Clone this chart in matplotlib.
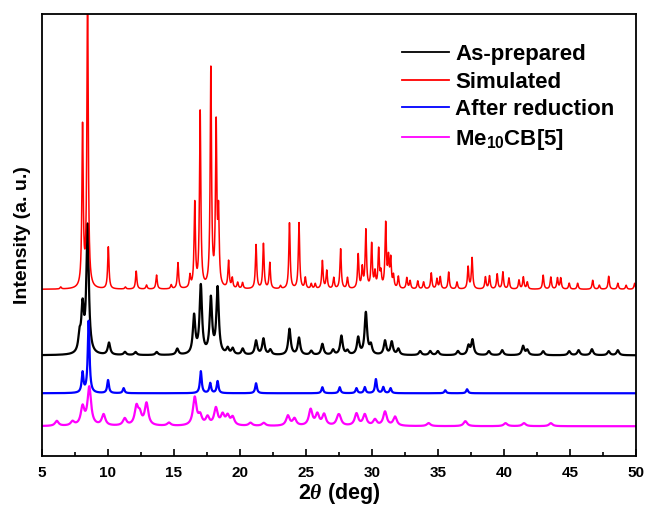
import numpy as np
import matplotlib
matplotlib.use('Agg')
import matplotlib.pyplot as plt
from matplotlib.ticker import MultipleLocator

plt.rcParams['font.family'] = ['Liberation Sans', 'DejaVu Sans']
plt.rcParams['font.weight'] = 'bold'
plt.rcParams['mathtext.fontset'] = 'custom'
plt.rcParams['mathtext.rm'] = 'Liberation Sans:bold'
plt.rcParams['mathtext.it'] = 'Liberation Serif:italic'
plt.rcParams['mathtext.bf'] = 'Liberation Sans:bold'

# peak lists: position (deg), height above baseline, half width (deg)
sim_pos = [6.44, 8.09, 8.47, 10.04, 11.33, 12.15, 12.93, 13.69, 14.8, 15.31, 16.22, 16.58,
           16.99, 17.8, 18.2, 18.38, 19.14, 19.42, 19.83, 20.2, 21.22, 21.78, 22.26, 23.07,
           23.75, 24.47, 24.95, 25.4, 25.7, 26.24, 26.57, 27.1, 27.62, 28.14, 28.95, 29.26,
           29.53, 29.97, 30.22, 30.5, 30.67, 31.03, 31.24, 31.41, 31.62, 31.99, 32.63, 32.88,
           33.46, 33.9, 34.48, 34.91, 35.16, 35.8, 36.43, 37.27, 37.57, 38.58, 38.89, 39.47,
           39.9, 40.36, 41.12, 41.45, 41.75, 42.95, 43.53, 44.03, 44.28, 44.92, 45.56, 46.7,
           47.2, 47.91, 48.6, 49.23, 49.87]
sim_h = [2, 160, 300, 42, 2, 18, 4, 14, 4, 26, 12, 84,
         176, 218, 160, 70, 27, 10, 6, 6, 44, 45, 26, 3,
         66, 66, 11, 5, 5, 28, 18, 11, 40, 11, 34, 20,
         58, 44, 15, 38, 14, 64, 28, 28, 12, 12, 11, 8,
         8, 7, 16, 10, 12, 17, 7, 22, 31, 12, 13, 15,
         17, 11, 9, 12, 7, 14, 12, 11, 11, 6, 6, 9,
         4, 13, 6, 4, 6]
sim_w = 0.06

exp_pos = [7.86, 8.09, 8.47, 10.09, 11.3, 12.1, 13.7, 15.26, 16.53, 17.04, 17.8, 18.31, 19.07,
           19.45, 20.21, 21.22, 21.78, 22.3, 23.75, 24.47, 25.4, 26.24, 27.05, 27.68, 28.14,
           28.95, 29.53, 29.91, 30.98, 31.49, 31.99, 33.64, 34.4, 34.98, 36.5, 37.3, 37.6,
           38.84, 39.85, 41.43, 41.75, 42.95, 44.92, 45.63, 46.64, 47.91, 48.6]
exp_h = [16, 44, 128, 12, 3, 3, 3, 6, 38, 68, 55, 66, 6,
         6, 6, 14, 16, 5, 26, 17, 4, 11, 5, 19, 4,
         17, 42, 9, 14, 13, 6, 4, 4, 4, 4, 9, 15,
         4, 5, 9, 5, 4, 4, 5, 6, 4, 5]
exp_w = 0.11

red_pos = [8.09, 8.55, 10.02, 11.2, 17.04, 17.75, 18.31, 21.22, 26.24, 27.55, 28.82, 29.45,
           30.29, 30.85, 31.4, 35.54, 37.19]
red_h = [20, 72, 13, 5, 22, 10, 12, 10, 6, 6, 5, 6, 14, 6, 5, 3, 4]
red_w = 0.08

cb_pos = [6.14, 7.33, 8.09, 8.6, 9.68, 11.28, 12.17, 12.42, 12.93, 14.63, 16.58, 16.99,
          17.55, 18.18, 18.69, 19.07, 19.45, 20.8, 21.8, 23.63, 24.13, 25.35, 25.86, 26.37,
          27.43, 27.55, 28.82, 29.45, 30.22, 30.98, 31.74, 34.28, 37.06, 40.1, 41.5, 43.53]
cb_h = [5, 4, 18, 38, 11, 7, 18, 10, 22, 3, 28, 9,
        8, 17, 10, 9, 8, 3, 3, 10, 7, 16, 11, 11,
        7, 6, 12, 11, 6, 14, 9, 3, 5, 3, 3, 3]
cb_w = 0.16

baselines = [167, 101, 63, 30]
colors = ['#ff0000', '#000000', '#0000ff', '#ff00ff']

two_theta = np.linspace(5, 50, 4501)


def pattern(pos, h, w, base):
    y = np.full_like(two_theta, float(base))
    for c, a in zip(pos, h):
        y += a / (1 + ((two_theta - c) / w) ** 2)
    return y


fig = plt.figure(figsize=(6.47, 5.08), dpi=100)
ax = fig.add_axes([0.0645, 0.102, 0.919, 0.871])

y_sim = pattern(sim_pos, sim_h, sim_w, baselines[0])
y_exp = pattern(exp_pos, exp_h, exp_w, baselines[1])
y_red = pattern(red_pos, red_h, red_w, baselines[2])
y_cb = pattern(cb_pos, cb_h, cb_w, baselines[3])

l_exp, = ax.plot(two_theta, y_exp, color=colors[1], lw=1.6)
l_sim, = ax.plot(two_theta, y_sim, color=colors[0], lw=1.1)
l_red, = ax.plot(two_theta, y_red, color=colors[2], lw=1.6)
l_cb, = ax.plot(two_theta, y_cb, color=colors[3], lw=1.6)

ax.set_xlim(5, 50)
ax.set_ylim(0, 443)
ax.set_yticks([])
ax.xaxis.set_major_locator(MultipleLocator(5))
ax.xaxis.set_minor_locator(MultipleLocator(2.5))
ax.tick_params(axis='x', which='major', direction='in', length=5, width=1.2,
               labelsize=11, pad=7)
ax.tick_params(axis='x', which='minor', direction='in', length=3, width=1.2)
for lab in ax.get_xticklabels():
    lab.set_fontweight('bold')
for s in ax.spines.values():
    s.set_linewidth(1.3)

ax.set_xlabel(r'2$\theta$ (deg)', fontsize=15.5, fontweight='bold', labelpad=1)
ax.set_ylabel('Intensity (a. u.)', fontsize=14, fontweight='bold', labelpad=8)

leg = ax.legend([l_exp, l_sim, l_red, l_cb],
                ['As-prepared', 'Simulated', 'After reduction', 'Me$_{10}$CB[5]'],
                loc='upper right', bbox_to_anchor=(0.997, 0.977), frameon=False,
                prop={'size': 16, 'weight': 'bold'}, handlelength=2.1,
                handletextpad=0.3, labelspacing=0.3)
for line in leg.get_lines():
    line.set_linewidth(1.3)

fig.savefig('out.png', dpi=100)
